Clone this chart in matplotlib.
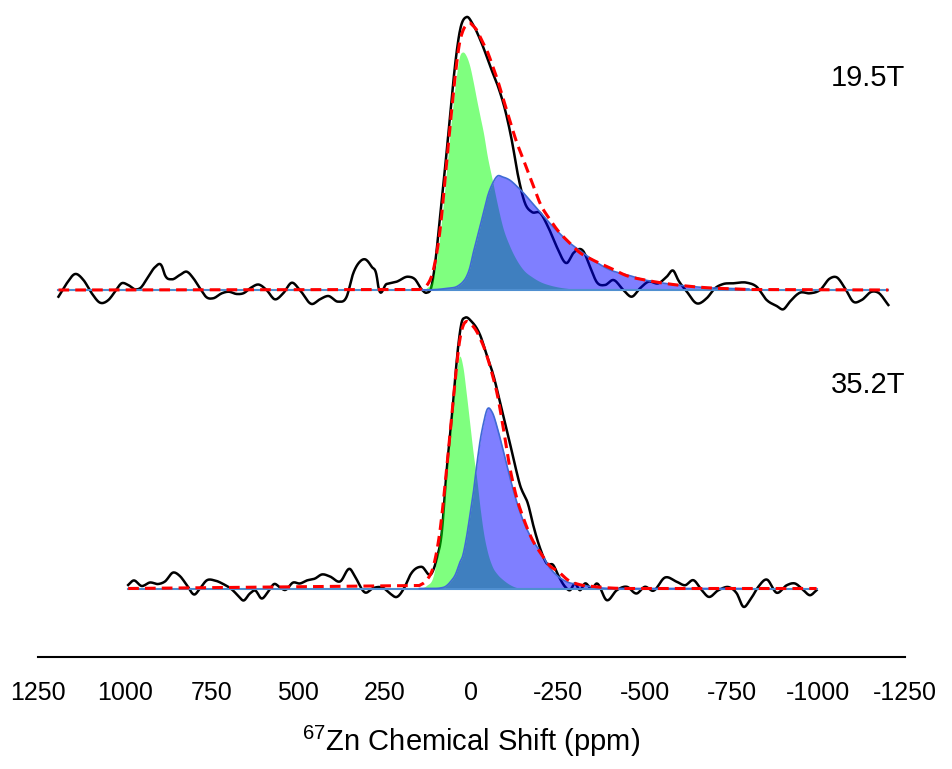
import matplotlib.pyplot as plt
import numpy as np

top_ppm = [1191, 1167, 1143, 1119, 1095, 1071, 1047, 1028, 1009, 990, 970, 956, 932, 913, 893, 884,
           864, 841, 821, 802, 783, 764, 745, 720, 701, 677, 658, 634, 615, 591, 567, 543, 518, 495,
           461, 437, 413, 384, 360, 341, 322, 307, 288, 273, 269, 245, 216, 182, 163, 144, 129, 115,
           102, 91, 76, 62, 48, 33, 14, -5, -29, -58, -77, -97, -116, -135, -154, -174, -198, -221,
           -246, -275, -294, -322, -342, -361, -385, -409, -438, -462, -486, -510, -539, -563, -582,
           -596, -621, -649, -678, -702, -726, -755, -794, -822, -851, -880, -899, -918, -947, -976,
           -1005, -1034, -1053, -1077, -1101, -1125, -1154, -1173, -1202]
top_obs = [-6.7, 6.7, 16, 10, -3.3, -12.7, -10, -1.7, 6.7, 5, 0.7, 1.7, 13.3, 22.7, 24, 15,
           10.7, 15, 18.3, 11.7, 1.7, -7.3, -8.3, -3.3, -1.7, -4, -3.3, 2.7, 5.5, 0, -9.3, -3.3, 7.3, 0,
           -14, -9.3, -6, -11.7, -6.7, 16.7, 28.3, 30.7, 23.3, 13.3, 4, 6, 8.3, 13.3, 10.7, 0.7, -2.7, 4,
           35, 73, 123, 173, 223, 260, 273, 265, 247, 220, 203, 180, 150, 113, 87, 78, 77, 63,
           43, 27, 37, 39, 23, 8, 5, 10, 0, -6.7, 1.7, 8.3, 6.7, 13.3, 19.3,
           10, -1.7, -13.3, -8.3, 1.7, 6, 6.7, 7.3, 3.3, -10, -16, -19.3, -11.7, -2.7, -3.3,
           0, 11.7, 12.7, 1.7, -11.7, -10, -1.7, -2.7, -15]

bot_ppm = [990, 975, 951, 927, 903, 884, 860, 841, 821, 799, 783, 764, 740, 716, 691, 672, 658,
           639, 624, 605, 586, 569, 552, 538, 514, 495, 475, 451, 432, 408, 379, 350, 336, 307, 283,
           254, 235, 216, 192, 177, 144, 115, 100, 86, 72, 57, 48, 38, 28, 19, -1, -25, -44, -63,
           -82, -101, -121, -140, -164, -178, -198, -217, -236, -250, -270, -284, -298, -313, -327,
           -347, -361, -390, -419, -448, -476, -500, -524, -558, -592, -616, -640, -664, -683, -712,
           -745, -765, -784, -803, -827, -851, -880, -909, -933, -957, -976, -995]
bot_obs = [3.5, 8, 2.5, 6, 4.5, 7, 16, 12.5, 3.5, -6, 0, 8, 8, 4.5, -1, -7.5, -12,
           -5, -2, -10, -3, 4.5, 1, -1.5, 6, 5, 8, 10, 14, 12, 7, 19.5, 12, -4, 0.5,
           0.5, -5, -8.5, 2, 13.3, 21.7, 15, 30, 55, 116.7, 170, 206.7, 243.3, 266.7, 270.7, 266.7, 253.3, 233.3, 213.3,
           186.7, 160, 130, 103.3, 83.3, 63.3, 40, 25, 23.3, 13.3, 1.7, -1.7, 5, -1.7, 5,
           0, 5, -11.7, -1.7, 1.7, -5, 1.7, -2.3, 11, 6.7, 3.3, 8.3, -1.7, -8.3, -1.7,
           1, -5, -18.3, -11.7, 1.7, 9, -4.3, 3.3, 5, -1.7, -6.7, -1.7]

# fitted sites (green = site 1, blue = site 2) and total fit
fit_ppm = [150, 130, 110, 90, 75, 60, 45, 35, 25, 15, 5, -5, -15, -25, -35, -45, -60, -75, -90,
           -110, -130, -150, -175, -200, -225, -250, -280, -310, -350, -400, -450, -500, -550, -650, -800]
top_site1 = [0, 2, 13, 58, 108, 163, 210, 233, 238, 234, 224, 208, 190, 173, 156, 135, 110, 85, 63,
             44, 30, 20, 13, 8, 5, 3, 1.5, 0.5, 0, 0, 0, 0, 0, 0, 0]
top_site2 = [0, 0, 0.3, 0.8, 1.5, 2, 3, 5, 8, 13, 22, 37, 50, 64, 78, 92, 106, 114, 113,
             110, 104, 97, 87, 77, 67, 58, 48, 40, 30, 20, 15, 10, 7, 3, 1]
top_fit = [0.5, 4, 20, 62, 115, 170, 220, 246, 259, 265, 267, 264, 260, 253, 246, 239, 225, 210, 193,
           170, 148, 130, 107, 85, 71, 59, 48, 38, 30, 22, 14, 10, 7, 3, 0.5]
bot_site1 = [0, 3, 13, 55, 105, 157, 210, 232, 222, 195, 165, 135, 110, 80, 55, 38, 22, 14, 9,
             4, 1, 0.5, 0, 0, 0, 0, 0, 0, 0, 0, 0, 0, 0, 0, 0]
bot_site2 = [0, 0, 0, 0.5, 2, 7, 15, 25, 33, 50, 72, 95, 123, 148, 166, 179, 176, 160, 140,
             112, 87, 67, 49, 36, 21, 12, 6, 4, 1.5, 0, 0, 0, 0, 0, 0]
bot_fit = [3, 8, 22, 60, 108, 162, 215, 246, 262, 267, 265, 262, 257, 250, 242, 232, 214, 193, 164,
           122, 91, 70, 49, 35, 23, 17, 8, 4, 2, 0.5, 0, 0, 0, 0, 0]

fields = ["19.5T", "35.2T"]
tick_vals = [1250, 1000, 750, 500, 250, 0, -250, -500, -750, -1000, -1250]

plt.rcParams["font.family"] = ["Liberation Sans", "DejaVu Sans"]
plt.rcParams["mathtext.default"] = "regular"
plt.rcParams["axes.unicode_minus"] = False

fig = plt.figure(figsize=(9.53, 7.69), dpi=100)
ax = fig.add_axes([38 / 953, 1 - 657 / 769, 867 / 953, 657 / 769])


def smooth(x, y, n=10):
    # cubic Hermite curve through the read points, only for drawing
    x = np.asarray(x, float)
    y = np.asarray(y, float)
    m = np.gradient(y, x)
    t = np.linspace(0, 1, n, endpoint=False)
    xs, ys = [], []
    for i in range(len(x) - 1):
        h = x[i + 1] - x[i]
        xs.append(x[i] + h * t)
        ys.append((2 * t**3 - 3 * t**2 + 1) * y[i] + (t**3 - 2 * t**2 + t) * h * m[i]
                  + (-2 * t**3 + 3 * t**2) * y[i + 1] + (t**3 - t**2) * h * m[i + 1])
    xs.append([x[-1]])
    ys.append([y[-1]])
    return np.concatenate(xs), np.concatenate(ys)


def draw(ppm, obs, s1, s2, fit, base):
    ends = [ppm[0], ppm[-1]]
    xo, yo = smooth(ppm, obs)
    xg, g = smooth(fit_ppm, s1)
    xb, b = smooth(fit_ppm, s2)
    xf, f = smooth(fit_ppm, fit)
    g, b, f = np.clip(g, 0, None), np.clip(b, 0, None), np.clip(f, 0, None)
    ax.plot(xo, yo + base, color="k", lw=1.8, zorder=2)
    ax.fill_between(xg, base, g + base, color=(0, 1, 0), alpha=0.5, lw=0, zorder=3)
    ax.fill_between(xb, base, b + base, color=(0, 0, 1), alpha=0.5, lw=0, zorder=4)
    ax.plot(ends, [base, base], color="#4f8fd0", lw=1.5, zorder=4)
    ax.plot(xb, b + base, color="#3f6ad6", lw=1.2, zorder=4)
    ax.plot(np.r_[ends[0], xf, ends[1]], np.r_[0, f, 0] + base,
            color="red", lw=2.2, dashes=(3.5, 2), zorder=5)


draw(top_ppm, top_obs, top_site1, top_site2, top_fit, 367)
draw(bot_ppm, bot_obs, bot_site1, bot_site2, bot_fit, 68.5)

ax.text(-1250, 579, fields[0], ha="right", va="center", fontsize=21)
ax.text(-1250, 272, fields[1], ha="right", va="center", fontsize=21)

ax.set_xlim(1250, -1250)
ax.set_ylim(0, 657)
for s in ["top", "left", "right"]:
    ax.spines[s].set_visible(False)
ax.spines["bottom"].set_linewidth(1.5)
ax.set_yticks([])
ax.set_xticks(tick_vals)
ax.set_xticklabels([str(t) for t in tick_vals])
ax.set_xticks([-750, -1250], minor=True)
ax.tick_params(axis="x", which="major", length=0, pad=17, labelsize=18)
ax.tick_params(axis="x", which="minor", length=5, width=1.2)
ax.set_xlabel("$^{67}$Zn Chemical Shift (ppm)", fontsize=21, labelpad=14)

fig.savefig("out.png", dpi=100)
